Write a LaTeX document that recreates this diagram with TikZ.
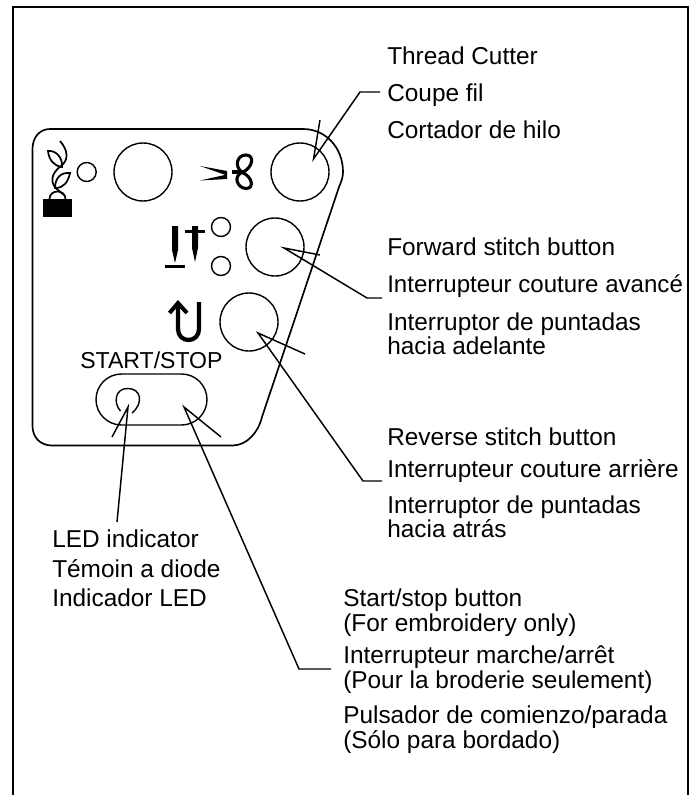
\documentclass[tikz,border=0pt]{standalone}
\usepackage{fontspec}
\setmainfont{Liberation Sans}
\begin{document}
\begin{tikzpicture}[x=0.75pt,y=-0.75pt,
  frameline/.style={line width=1.5pt,black},
  panelline/.style={line width=1.25pt,black},
  leader/.style={line width=1.1pt,black,line join=miter},
  bigbtn/.style={circle,draw,line width=1.05pt,minimum size=58*0.75pt,inner sep=0pt},
  lamp/.style={circle,draw,line width=1.05pt,minimum size=19*0.75pt,inner sep=0pt},
  lbl/.style={anchor=base west,inner sep=0pt,font=\fontsize{18.3}{18.75}\selectfont,align=left},
  icon/.style={line width=2.3pt,black},
]
\useasboundingbox (0,0) rectangle (694,795);
% page frame
\draw[frameline] (12.5,795) -- (12.5,7) -- (687.5,7) -- (687.5,795);
% panel
\draw[panelline] (50,129) -- (303,129)
  .. controls (326,129) and (343,148) .. (343,172)
  .. controls (343,178) and (341,182) .. (339,187)
  -- (262,417)
  .. controls (258,433) and (247,445) .. (233,445.5)
  -- (52,445.5)
  .. controls (40,445.5) and (32.5,437) .. (32.5,426)
  -- (32.5,149)
  .. controls (32.5,137) and (40,129) .. (50,129) -- cycle;
% buttons
\node[bigbtn] (mid) at (143,172) {};
\node[bigbtn] (cut) at (300,172) {};
\node[bigbtn] (fwd) at (275,247) {};
\node[bigbtn] (rev) at (249,322) {};
\node[lamp] (ledA) at (86.7,172) {};
\node[lamp] (ledB) at (221,227) {};
\node[lamp] (ledC) at (221,266) {};
\node[draw,line width=1.05pt,rounded corners=25.5*0.75pt,minimum width=111*0.75pt,minimum height=51*0.75pt,inner sep=0pt] (pill) at (151.5,399.5) {};
% LED ring with a gap at the foot
\draw[line width=1.05pt] (120.5,411) .. controls (113,403) and (115,388) .. (128,388.5)
  .. controls (141,388.5) and (144,403) .. (132,413);
\node[anchor=base west,inner sep=0pt,font=\fontsize{17.3}{18}\selectfont] (startlbl) at (80,368) {START/STOP};
% plant + padlock icon
\fill (43,199) rectangle (72,217);
\draw[line width=1.3pt] (49.5,199) .. controls (49.5,189) and (65.5,189) .. (65.5,199);
\draw[line width=1.3pt] (60,141) .. controls (68,150) and (69,160) .. (61,166)
  .. controls (50,174) and (50,184) .. (58,190) -- (64,195);
\draw[line width=1.3pt] (48,151) .. controls (56,150) and (63,158) .. (62,167)
  .. controls (54,166) and (49,160) .. (48,151) -- cycle;
\draw[line width=1.3pt] (70,173) .. controls (61,172) and (55,178) .. (55,188)
  .. controls (64,188) and (68,182) .. (70,173) -- cycle;
% scissors icon
\fill (200,166) -- (227,171) -- (227,175.5) -- cycle;
\fill (200,180.5) -- (227,174.5) -- (227,179) -- cycle;
\draw[icon] (232,172) -- (243,172);
\draw[icon] (242,172.5) .. controls (234,166) and (237,155) .. (246,155)
  .. controls (255,155) and (253,168) .. (242,172.5)
  .. controls (233,176) and (237,188) .. (246,188.5)
  .. controls (255,188.5) and (252,176) .. (242,172.5);
% needle icons
\fill (172,226) -- (178,226) -- (178,250) -- (175,263) -- (172,250) -- cycle;
\fill (165,265) rectangle (185,268);
\fill (192,226) -- (198,226) -- (198,248) -- (195,262) -- (192,248) -- cycle;
\fill (185,230) rectangle (205,233);
% reverse icon
\draw[line width=3.2pt,line join=miter] (199,302) -- (199,329)
  .. controls (199,336) and (194,340) .. (188.5,340)
  .. controls (183,340) and (178,336) .. (178,329) -- (178,304);
\draw[line width=3pt] (169.5,313) -- (178,303) -- (187,313);
% leader points
\coordinate (cutTip) at (313.5,159);
\coordinate (cutBarb) at (320,120);
\coordinate (cutKink) at (360,92);
\coordinate (cutEnd) at (380,92);
\coordinate (fwdTip) at (284,248);
\coordinate (fwdBarb) at (320,255);
\coordinate (fwdKink) at (367,298);
\coordinate (fwdEnd) at (382,298);
\coordinate (revTip) at (258,333);
\coordinate (revBarb) at (305,354);
\coordinate (revKink) at (363,481);
\coordinate (revEnd) at (382,481);
\coordinate (ssTip) at (184,407);
\coordinate (ssBarb) at (221,437);
\coordinate (ssKink) at (299,669);
\coordinate (ssEnd) at (331,669);
\coordinate (ledTip) at (128,407);
\coordinate (ledBarb) at (112,437);
\coordinate (ledEnd) at (117,522);
% leaders
\draw[leader] (cutBarb) -- (cutTip) -- (cutKink) -- (cutEnd);
\draw[leader] (fwdBarb) -- (fwdTip) -- (fwdKink) -- (fwdEnd);
\draw[leader] (revBarb) -- (revTip) -- (revKink) -- (revEnd);
\draw[leader] (ssBarb) -- (ssTip) -- (ssKink) -- (ssEnd);
\draw[leader] (ledBarb) -- (ledTip) -- (ledEnd);
% labels
\node[lbl] (c1) at (387,65) {Thread Cutter};
\node[lbl] (c2) at (387,102) {Coupe fil};
\node[lbl] (c3) at (387,138) {Cortador de hilo};
\node[lbl] (f1) at (387,255) {Forward stitch button};
\node[lbl,font=\fontsize{18.05}{18.75}\selectfont] (f2) at (387,292) {Interrupteur couture avancé};
\node[lbl] (f3) at (387,330) {Interruptor de puntadas};
\node[lbl] (f4) at (387,354) {hacia adelante};
\node[lbl] (r1) at (387,445) {Reverse stitch button};
\node[lbl] (r2) at (387,477) {Interrupteur couture arrière};
\node[lbl] (r3) at (387,513) {Interruptor de puntadas};
\node[lbl] (r4) at (387,537) {hacia atrás};
\node[lbl] (l1) at (52,547) {LED indicator};
\node[lbl] (l2) at (52,577) {Témoin a diode};
\node[lbl] (l3) at (52,606) {Indicador LED};
\node[lbl] (s1) at (343,606) {Start/stop button};
\node[lbl] (s2) at (343,631) {(For embroidery only)};
\node[lbl] (s3) at (343,663) {Interrupteur marche/arrêt};
\node[lbl] (s4) at (343,688) {(Pour la broderie seulement)};
\node[lbl] (s5) at (343,723) {Pulsador de comienzo/parada};
\node[lbl] (s6) at (343,748) {(Sólo para bordado)};
\end{tikzpicture}
\end{document}
